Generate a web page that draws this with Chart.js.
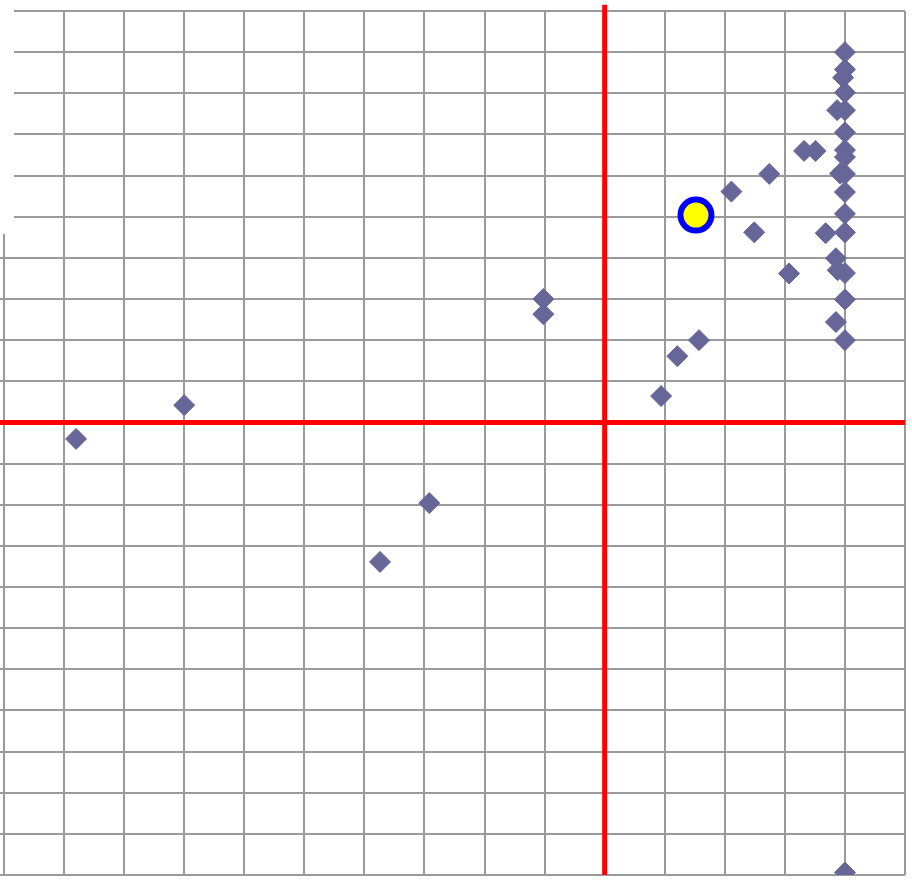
<!DOCTYPE html>
<html>
<head>
<meta charset="utf-8">
<script src="https://cdn.jsdelivr.net/npm/chart.js@4/dist/chart.umd.min.js"></script>
<style>
  html, body { margin: 0; padding: 0; background: #ffffff; }
  #wrap { width: 912px; height: 887px; }
</style>
</head>
<body>
<div id="wrap"><canvas id="c" width="912" height="887"></canvas></div>
<script>
// Axis ranges / ticks
const xMin = -100, xMax = 50, xStep = 10;
const yMin = -110, yMax = 100, yStep = 10;

// Scatter points (diamonds)
const pointsX = [-88, -70, -29.2, -37.4, -10.2, -10.2, 9.4, 12.1, 15.7, 21.1, 27.4, 24.9, 30.7, 33.2, 35.1, 36.8,
                 40, 40, 39.7, 40, 38.7, 40, 40, 40, 40, 39.2, 40, 40, 40, 40, 38.5, 38.8, 40, 40, 38.5, 40, 40];
const pointsY = [-4.0, 4.2, -19.6, -33.9, 30.0, 26.3, 6.4, 16.1, 20.0, 56.1, 60.4, 46.2, 36.2, 66.0, 66.0, 46.0,
                 90, 85.8, 83.8, 80.2, 75.9, 75.9, 70.5, 66.2, 64.5, 60.5, 60.4, 56.0, 50.7, 46.2, 39.9, 37.0, 36.3, 29.9, 24.4, 20.0, -109.4];

// Highlighted point (yellow circle)
const highlightX = [15.2];
const highlightY = [50.4];

// Reference (quadrant) lines
const vLineX = [0, 0];
const vLineY = [-110, 101.5];
const hLineX = [-100.8, 50];
const hLineY = [0, 0];

const zip = (xs, ys) => xs.map((x, i) => ({ x: x, y: ys[i] }));

const maskPlugin = {
  id: 'topLeftMask',
  afterDraw(chart) {
    const ctx = chart.ctx;
    ctx.save();
    ctx.fillStyle = '#ffffff';
    ctx.fillRect(0, 0, 14, 234);
    ctx.restore();
  }
};

new Chart(document.getElementById('c'), {
  type: 'scatter',
  data: {
    datasets: [
      {
        label: 'highlight',
        data: zip(highlightX, highlightY),
        pointStyle: 'circle',
        pointRadius: 15.5,
        pointBackgroundColor: '#ffff00',
        pointBorderColor: '#0000ff',
        pointBorderWidth: 6,
        order: 0
      },
      {
        label: 'points',
        data: zip(pointsX, pointsY),
        pointStyle: 'rectRot',
        pointRadius: 10.5,
        pointBackgroundColor: '#666699',
        pointBorderColor: '#666699',
        pointBorderWidth: 1,
        order: 1
      },
      {
        type: 'line',
        label: 'vline',
        data: zip(vLineX, vLineY),
        borderColor: '#ff0000',
        borderWidth: 5,
        pointRadius: 0,
        clip: false,
        order: 2
      },
      {
        type: 'line',
        label: 'hline',
        data: zip(hLineX, hLineY),
        borderColor: '#ff0000',
        borderWidth: 5,
        pointRadius: 0,
        clip: false,
        order: 2
      }
    ]
  },
  options: {
    responsive: false,
    animation: false,
    events: [],
    layout: { autoPadding: false, padding: { left: 0, right: 7, top: 11, bottom: 12 } },
    plugins: { legend: { display: false }, tooltip: { enabled: false } },
    scales: {
      x: {
        type: 'linear',
        min: xMin, max: xMax,
        ticks: { display: false, stepSize: xStep },
        grid: { color: '#9a9a9a', lineWidth: 2, drawTicks: false },
        border: { display: false }
      },
      y: {
        type: 'linear',
        min: yMin, max: yMax,
        ticks: { display: false, stepSize: yStep },
        grid: { color: '#9a9a9a', lineWidth: 2, drawTicks: true, tickLength: 4 },
        border: { display: false }
      }
    }
  },
  plugins: [maskPlugin]
});
</script>
</body>
</html>
